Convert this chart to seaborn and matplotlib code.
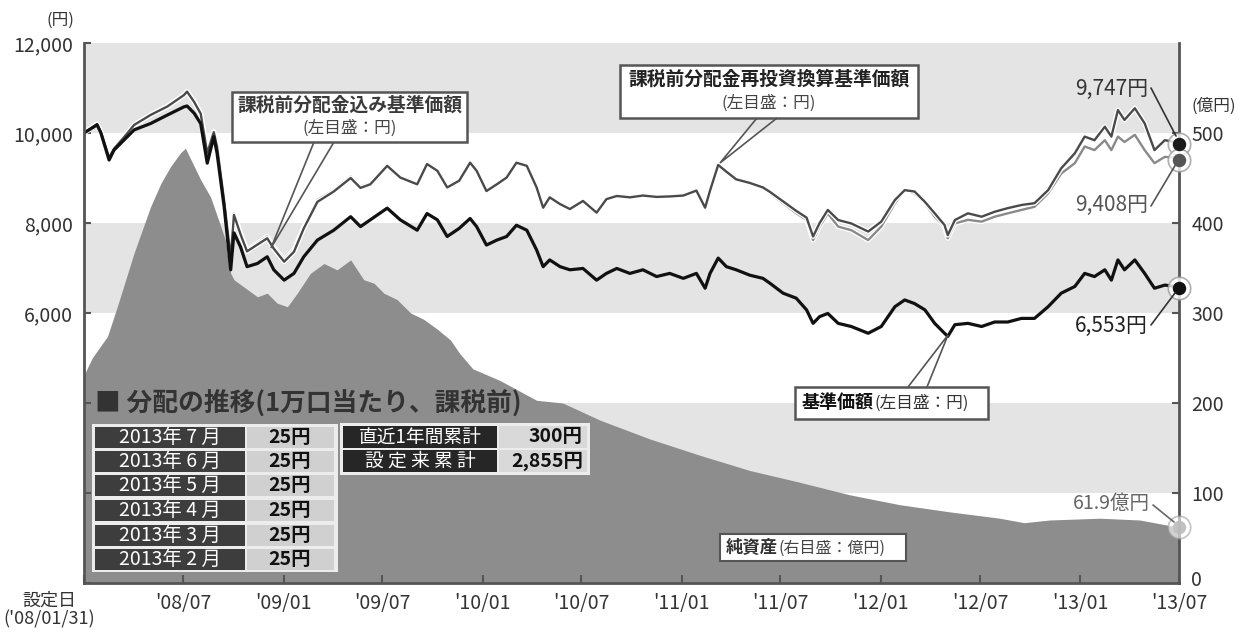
import numpy as np
import pandas as pd
import matplotlib
matplotlib.use("Agg")
import matplotlib.pyplot as plt
import matplotlib.patheffects as pe
from matplotlib.patches import Rectangle, Polygon
from matplotlib.lines import Line2D
from matplotlib.transforms import ScaledTranslation
import seaborn as sns

# ---------------- data ----------------
line_dates = [
    "2008-01-31", "2008-02-24", "2008-03-02", "2008-03-17", "2008-03-26", "2008-04-13",
    "2008-05-02", "2008-06-01", "2008-07-02", "2008-08-01", "2008-08-07", "2008-08-20",
    "2008-09-01", "2008-09-13", "2008-09-25", "2008-10-01", "2008-10-14", "2008-10-26",
    "2008-11-01", "2008-11-13", "2008-11-25", "2008-12-14", "2009-01-01", "2009-01-13",
    "2009-02-01", "2009-02-19", "2009-03-09", "2009-04-03", "2009-05-03", "2009-06-03",
    "2009-06-21", "2009-07-09", "2009-08-09", "2009-09-02", "2009-10-03", "2009-10-21",
    "2009-11-09", "2009-11-27", "2009-12-19", "2010-01-08", "2010-01-20", "2010-02-07",
    "2010-02-26", "2010-03-16", "2010-04-03", "2010-04-22", "2010-05-10", "2010-05-22",
    "2010-06-03", "2010-06-22", "2010-07-10", "2010-08-03", "2010-08-28", "2010-09-15",
    "2010-10-04", "2010-10-28", "2010-11-21", "2010-12-16", "2011-01-09", "2011-02-03",
    "2011-02-27", "2011-03-15", "2011-03-24", "2011-04-08", "2011-04-23", "2011-05-11",
    "2011-06-05", "2011-06-29", "2011-07-12", "2011-08-05", "2011-08-29", "2011-09-17",
    "2011-09-29", "2011-10-11", "2011-10-26", "2011-11-14", "2011-12-08", "2012-01-08",
    "2012-02-01", "2012-02-26", "2012-03-15", "2012-04-02", "2012-04-21", "2012-05-09",
    "2012-05-27", "2012-06-02", "2012-06-15", "2012-07-09", "2012-08-03", "2012-08-27",
    "2012-09-20", "2012-10-15", "2012-11-08", "2012-12-03", "2012-12-27", "2013-01-21",
    "2013-02-08", "2013-02-26", "2013-03-17", "2013-03-29", "2013-04-10", "2013-04-22",
    "2013-05-11", "2013-05-29", "2013-06-16", "2013-07-05", "2013-07-23", "2013-07-31",
]
# 基準価額 (左目盛：円)
nav = [
    10000, 10180, 10000, 9400, 9620, 9840, 10070, 10210, 10400, 10580, 10600, 10440,
    10210, 9330, 9920, 9550, 8360, 6960, 7780, 7470, 7030, 7100, 7250, 6960,
    6730, 6880, 7250, 7620, 7840, 8140, 7920, 8070, 8330, 8070, 7840, 8210,
    8070, 7700, 7880, 8100, 7920, 7510, 7620, 7700, 7950, 7840, 7400, 7030,
    7180, 7030, 6960, 6990, 6730, 6880, 6990, 6880, 6960, 6810, 6880, 6770,
    6880, 6550, 6880, 7220, 7030, 6960, 6840, 6770, 6660, 6440, 6330, 6070,
    5770, 5920, 5990, 5770, 5700, 5550, 5700, 6140, 6290, 6210, 6070, 5770,
    5550, 5480, 5740, 5770, 5700, 5800, 5800, 5880, 5880, 6140, 6440, 6590,
    6880, 6810, 6960, 6730, 7180, 6960, 7180, 6880, 6550, 6620, 6590, 6553,
]
# 課税前分配金込み基準価額 (左目盛：円)
nav_incl = [
    10000, 10200, 10020, 9450, 9650, 9900, 10180, 10400, 10590, 10840, 10920, 10700,
    10440, 9560, 10030, 9700, 8510, 7250, 8210, 7780, 7400, 7550, 7700, 7470,
    7180, 7400, 7920, 8510, 8730, 9030, 8810, 8880, 9290, 9030, 8880, 9330,
    9180, 8810, 8955, 9360, 9180, 8730, 8880, 9030, 9360, 9290, 8810, 8360,
    8590, 8440, 8330, 8510, 8250, 8550, 8620, 8590, 8620, 8590, 8600, 8620,
    8730, 8360, 8730, 9290, 9140, 8960, 8880, 8770, 8660, 8440, 8220, 8070,
    7620, 7920, 8215, 7920, 7840, 7620, 7920, 8440, 8730, 8660, 8440, 8140,
    7920, 7660, 7990, 8070, 8030, 8140, 8215, 8290, 8360, 8660, 9100, 9330,
    9700, 9620, 9840, 9620, 9920, 9800, 9960, 9620, 9330, 9470, 9450, 9408,
]
# 課税前分配金再投資換算基準価額 (左目盛：円)
nav_reinv = [
    10000, 10200, 10020, 9450, 9650, 9900, 10180, 10400, 10590, 10840, 10920, 10690,
    10430, 9550, 10020, 9690, 8490, 7220, 8180, 7750, 7370, 7520, 7660, 7430,
    7140, 7360, 7880, 8470, 8700, 9000, 8780, 8860, 9270, 9010, 8860, 9310,
    9160, 8790, 8940, 9340, 9160, 8710, 8860, 9010, 9340, 9270, 8790, 8340,
    8570, 8420, 8310, 8490, 8230, 8530, 8600, 8570, 8610, 8580, 8590, 8610,
    8720, 8340, 8720, 9290, 9140, 8970, 8890, 8790, 8690, 8480, 8270, 8120,
    7700, 8000, 8290, 8066, 7990, 7810, 8030, 8510, 8730, 8700, 8470, 8215,
    7955, 7730, 8066, 8215, 8140, 8250, 8330, 8400, 8440, 8730, 9215, 9550,
    9920, 9840, 10140, 9920, 10510, 10290, 10550, 10215, 9620, 9840, 9800, 9747,
]
# 純資産 (右目盛：億円)
asset_dates = [
    "2008-01-31", "2008-02-15", "2008-03-14", "2008-04-01", "2008-05-02", "2008-06-01",
    "2008-06-20", "2008-07-08", "2008-07-26", "2008-08-04", "2008-09-01", "2008-09-19",
    "2008-10-08", "2008-10-20", "2008-10-26", "2008-11-01", "2008-11-19", "2008-12-14",
    "2009-01-01", "2009-01-19", "2009-02-07", "2009-02-25", "2009-03-21", "2009-04-15",
    "2009-05-09", "2009-06-03", "2009-06-27", "2009-07-16", "2009-08-03", "2009-08-27",
    "2009-09-21", "2009-10-15", "2009-11-09", "2009-12-03", "2009-12-20", "2010-01-13",
    "2010-02-05", "2010-03-04", "2010-05-10", "2010-06-27", "2010-09-03", "2010-12-04",
    "2011-03-05", "2011-06-05", "2011-09-04", "2011-12-05", "2012-03-06", "2012-06-06",
    "2012-09-05", "2012-10-20", "2012-12-06", "2013-03-08", "2013-05-20", "2013-07-31",
]
assets = [
    231, 250, 274, 307, 367, 418, 444, 463, 478, 483, 448, 429,
    396, 374, 344, 337, 329, 318, 322, 311, 307, 322, 344, 355,
    348, 359, 337, 333, 322, 315, 300, 293, 282, 270, 255, 238,
    232, 225, 203, 200, 181, 160, 142, 125, 112, 98, 87, 79,
    72, 67, 70, 72, 70, 61.9,
]

x_tick_dates = ["2008-01-31", "2008-07-31", "2009-01-31", "2009-07-31", "2010-01-31",
                "2010-07-31", "2011-01-31", "2011-07-31", "2012-01-31", "2012-07-31",
                "2013-01-31", "2013-07-31"]
x_tick_labels = ["", "'08/07", "'09/01", "'09/07", "'10/01", "'10/07",
                 "'11/01", "'11/07", "'12/01", "'12/07", "'13/01", "'13/07"]
start_label = "設定日\n('08/01/31)"
left_ticks = [0, 2000, 4000, 6000, 8000, 10000, 12000]
left_tick_labels = ["", "", "", "6,000", "8,000", "10,000", "12,000"]
right_ticks = [0, 100, 200, 300, 400, 500]
right_tick_labels = ["0", "100", "200", "300", "400", "500"]

dist_months = ["2013年 7 月", "2013年 6 月", "2013年 5 月", "2013年 4 月", "2013年 3 月", "2013年 2 月"]
dist_values = ["25円", "25円", "25円", "25円", "25円", "25円"]
sum_labels = ["直近1年間累計", "設 定 来 累 計"]
sum_values = ["300円", "2,855円"]

end_labels = ["9,747円", "9,408円", "6,553円"]
asset_end_label = "61.9億円"

# ---------------- style ----------------
sns.set_theme(style="white")
plt.rcParams['font.family'] = ['Noto Sans CJK JP', 'DejaVu Sans']

W, H = 1246, 634
fig = plt.figure(figsize=(W / 100, H / 100), dpi=100)


def fx(x):
    return x / W


def fy(y):
    return 1 - y / H


L, R, T, B = 84, 1179, 43, 583
ax = fig.add_axes([fx(L), fy(B), (R - L) / W, (B - T) / H])
ax2 = ax.twinx()
ax.set_zorder(3)
ax2.set_zorder(2)
ax.patch.set_visible(False)

d_line = pd.to_datetime(line_dates)
d_asset = pd.to_datetime(asset_dates)
xmin, xmax = pd.Timestamp("2008-01-31"), pd.Timestamp("2013-07-31")

# bands & area on right axis
for lo, hi in [(500, 600), (300, 400), (100, 200)]:
    ax2.axhspan(lo, hi, color="#e4e4e4", zorder=0, lw=0)
ax2.fill_between(d_asset, 0, assets, color="#8d8d8d", lw=0, zorder=1)
ax2.set_ylim(0, 600)

# lines on left axis
halo = [pe.Stroke(linewidth=3.6, foreground="white"), pe.Normal()]
sns.lineplot(x=d_line, y=nav_incl, ax=ax, color="#8a8a8a", lw=1.7, sort=False)
ax.lines[-1].set_path_effects(halo)
sns.lineplot(x=d_line, y=nav_reinv, ax=ax, color="#4a4a4a", lw=1.7, sort=False)
ax.lines[-1].set_path_effects(halo)
sns.lineplot(x=d_line, y=nav, ax=ax, color="#111111", lw=2.3, sort=False)
ax.set_ylim(0, 12000)
ax.set_xlim(xmin, xmax)

# end dots
for val, col in [(nav_reinv[-1], "#1a1a1a"), (nav_incl[-1], "#555555"), (nav[-1], "#111111")]:
    ax.scatter([d_line[-1]], [val], s=260, facecolor="white", edgecolor="#9a9a9a", lw=1.2,
               zorder=6, clip_on=False, alpha=0.8)
    ax.scatter([d_line[-1]], [val], s=75, color=col, zorder=7, clip_on=False)
ax.scatter([d_asset[-1]], [assets[-1] * 20], s=260, facecolor="white", edgecolor="#9a9a9a",
           lw=1.2, zorder=6, clip_on=False, alpha=0.6)
ax2.scatter([d_asset[-1]], [assets[-1]], s=75, color="#666666", zorder=7, clip_on=False)

# axes styling
ax.set_yticks(left_ticks)
ax.set_yticklabels(left_tick_labels)
ax2.set_yticks(right_ticks)
ax2.set_yticklabels(right_tick_labels)
ax.set_xticks(pd.to_datetime(x_tick_dates))
ax.set_xticklabels(x_tick_labels)
ax.set_xlabel("")
ax.set_ylabel("")
ax.tick_params(axis="y", direction="in", length=5, width=1.5, color="#555555",
               labelsize=14, labelcolor="#333333", pad=8, left=True)
ax.tick_params(axis="x", direction="in", length=6, width=1.5, color="#555555",
               labelsize=14, labelcolor="#333333", pad=7, bottom=True)
ax2.tick_params(axis="y", direction="in", length=5, width=1.5, color="#555555",
                labelsize=14, labelcolor="#333333", pad=9, right=True)
zero_lbl = ax2.get_yticklabels()[0]
zero_lbl.set_transform(zero_lbl.get_transform() + ScaledTranslation(0, 5 / 100, fig.dpi_scale_trans))
for sp in ["left", "right", "bottom"]:
    ax.spines[sp].set_color("#555555")
    ax.spines[sp].set_linewidth(2)
    ax.spines[sp].set_visible(True)
ax.spines["top"].set_visible(False)
for sp in ax2.spines.values():
    sp.set_visible(False)
ax.grid(False)
ax2.grid(False)

fig.text(fx(49), fy(592), start_label, ha="center", va="top", fontsize=13,
         color="#333333", linespacing=1.0)
fig.text(fx(60), fy(20), "(円)", ha="center", va="center", fontsize=12, color="#333333")
fig.text(fx(1214), fy(106), "(億円)", ha="center", va="center", fontsize=12, color="#333333")


# ---------------- callouts ----------------
def box(x0, y0, x1, y1, fc="white", ec="#555555", lw=1.8, z=8):
    fig.add_artist(Rectangle((fx(x0), fy(y1)), (x1 - x0) / W, (y1 - y0) / H,
                             transform=fig.transFigure, facecolor=fc, edgecolor=ec,
                             lw=lw, zorder=z))


def tail(pts):
    fig.add_artist(Polygon([(fx(a), fy(b)) for a, b in pts], closed=False,
                           transform=fig.transFigure, facecolor="none",
                           edgecolor="#555555", lw=1.2, zorder=8))


box(232, 92, 467, 142)
tail([(314, 142), (271, 248), (334, 142)])
fig.text(fx(349.5), fy(105), "課税前分配金込み基準価額", ha="center", va="center",
         fontsize=13.5, fontweight="bold", color="#3a3a3a", zorder=9)
fig.text(fx(349.5), fy(128), "(左目盛：円)", ha="center", va="center",
         fontsize=12, color="#444444", zorder=9)

box(620, 65, 918, 118)
tail([(757, 118), (720, 163), (777, 118)])
fig.text(fx(769), fy(79), "課税前分配金再投資換算基準価額", ha="center", va="center",
         fontsize=13.5, fontweight="bold", color="#222222", zorder=9)
fig.text(fx(769), fy(103), "(左目盛：円)", ha="center", va="center",
         fontsize=12, color="#444444", zorder=9)

box(795, 387, 988, 419)
tail([(908, 387), (948, 335), (927, 387)])
fig.text(fx(874), fy(403), "基準価額", ha="right", va="center",
         fontsize=13, fontweight="bold", color="#111111", zorder=9)
fig.text(fx(874), fy(403), "(左目盛：円)", ha="left", va="center",
         fontsize=12, color="#333333", zorder=9)

box(720, 534, 906, 561, lw=1.5)
fig.text(fx(778), fy(548), "純資産", ha="right", va="center",
         fontsize=12.5, fontweight="bold", color="#333333", zorder=9)
fig.text(fx(778), fy(548), "(右目盛：億円)", ha="left", va="center",
         fontsize=11.5, color="#444444", zorder=9)

# end labels with leader lines
def leader(x0, y0, x1, y1, c="#333333"):
    fig.add_artist(Line2D([fx(x0), fx(x1)], [fy(y0), fy(y1)], transform=fig.transFigure,
                          color=c, lw=1.2, zorder=8))


fig.text(fx(1148), fy(89), end_labels[0], ha="right", va="center", fontsize=15, color="#333333")
leader(1151, 88, 1176, 136)
fig.text(fx(1148), fy(205), end_labels[1], ha="right", va="center", fontsize=15, color="#555555")
leader(1151, 206, 1176, 164, "#555555")
fig.text(fx(1148), fy(326), end_labels[2], ha="right", va="center", fontsize=15, color="#222222")
leader(1151, 325, 1175, 293)
fig.text(fx(1150), fy(503), asset_end_label, ha="right", va="center", fontsize=14, color="#666666")
leader(1153, 505, 1174, 522, "#666666")

# ---------------- distribution table ----------------
fig.text(fx(95), fy(403), "■ 分配の推移(1万口当たり、課税前)", ha="left", va="center",
         fontsize=18.5, fontweight="bold", color="#333333", zorder=9)
box(92, 424, 338, 572, fc="#ececec", ec="#ececec", lw=0)
row_tops = [427, 451, 475, 500, 525, 549]
for top, m, v in zip(row_tops, dist_months, dist_values):
    box(95, top, 245, top + 21, fc="#3d3d3d", ec="none", lw=0)
    box(247, top, 334, top + 21, fc="#d0d0d0", ec="none", lw=0)
    fig.text(fx(170), fy(top + 10.5), m, ha="center", va="center", fontsize=14,
             color="white", zorder=9)
    fig.text(fx(290), fy(top + 10.5), v, ha="center", va="center", fontsize=14,
             fontweight="bold", color="#111111", zorder=9)

box(340, 423, 590, 475, fc="#ececec", ec="#ececec", lw=0)
for top, lab, v in zip([426, 450], sum_labels, sum_values):
    box(343, top, 497, top + 22, fc="#262626", ec="none", lw=0)
    box(499, top, 587, top + 22, fc="#d9d9d9", ec="none", lw=0)
    fig.text(fx(420), fy(top + 11), lab, ha="center", va="center", fontsize=13.5,
             color="white", zorder=9)
    fig.text(fx(583), fy(top + 11), v, ha="right", va="center", fontsize=14,
             fontweight="bold", color="#111111", zorder=9)

fig.savefig("out.png", dpi=100)
